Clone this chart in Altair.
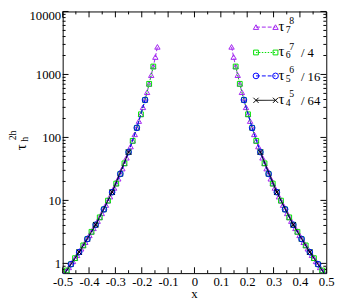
import altair as alt
import pandas as pd

# |x| positions and tau values (the two branches are mirror images)
x7 = [0.140625, 0.1484375, 0.15625, 0.1640625, 0.171875, 0.1796875, 0.1875, 0.1953125,
      0.203125, 0.2109375, 0.21875, 0.2265625, 0.234375, 0.2421875, 0.25, 0.2578125,
      0.265625, 0.2734375, 0.28125, 0.2890625, 0.296875, 0.3046875, 0.3125, 0.3203125,
      0.328125, 0.3359375, 0.34375, 0.3515625, 0.359375, 0.3671875, 0.375, 0.3828125,
      0.390625, 0.3984375, 0.40625, 0.4140625, 0.421875, 0.4296875, 0.4375, 0.4453125,
      0.453125, 0.4609375, 0.46875, 0.4765625, 0.484375, 0.4921875, 0.5]
t7 = [2742, 1892, 1337, 975, 710, 522, 394, 301, 233, 182, 142, 112, 88.3, 71.8, 58.5,
      47.6, 38.8, 32.0, 26.4, 22.1, 18.5, 15.8, 13.5, 11.5, 9.91, 8.45, 7.21, 6.24, 5.38,
      4.70, 4.10, 3.61, 3.17, 2.79, 2.44, 2.17, 1.93, 1.71, 1.51, 1.35, 1.21, 1.08, 0.97,
      0.865, 0.773, 0.69, 0.62]

x6 = [0.15625, 0.171875, 0.1875, 0.203125, 0.21875, 0.234375, 0.25, 0.265625, 0.28125,
      0.296875, 0.3125, 0.328125, 0.34375, 0.359375, 0.375, 0.390625, 0.40625, 0.421875,
      0.4375, 0.453125, 0.46875, 0.484375, 0.5]
t6 = [1337, 710, 394, 233, 142, 88.3, 58.5, 38.8, 26.4, 18.5, 13.5, 9.91, 7.21, 5.38,
      4.10, 3.17, 2.44, 1.93, 1.51, 1.21, 0.97, 0.773, 0.62]

x5 = [0.1875, 0.21875, 0.25, 0.28125, 0.3125, 0.34375, 0.375, 0.40625, 0.4375, 0.46875, 0.5]
t5 = [394, 142, 58.5, 26.4, 13.5, 7.21, 4.10, 2.44, 1.51, 0.97, 0.62]

x4 = [0.25, 0.3125, 0.375, 0.4375, 0.5]
t4 = [58.5, 13.5, 4.10, 1.51, 0.62]

leg_sub = ["7", "6", "5", "4"]
leg_sup = ["8", "7", "6", "5"]
leg_suffix = ["", "/ 4", "/ 16", "/ 64"]

x_major = [-0.5, -0.4, -0.3, -0.2, -0.1, 0.0, 0.1, 0.2, 0.3, 0.4, 0.5]
x_minor = [-0.45, -0.35, -0.25, -0.15, -0.05, 0.05, 0.15, 0.25, 0.35, 0.45]
y_major = [1, 10, 100, 1000, 10000]
y_minor = [0.7, 0.8, 0.9] + [m * d for d in (1, 10, 100, 1000) for m in range(2, 10)]

FONT = "Liberation Serif"
W, H = 270, 268

xscale = alt.Scale(domain=[-0.5, 0.5], nice=False, zero=False)
yscale = alt.Scale(type="log", domain=[0.7, 10000], nice=False)
xaxis = alt.Axis(values=x_major,
                 labelExpr="abs(datum.value) < 1e-9 ? '0' : replace(format(datum.value, '.1f'), '\u2212', '-')",
                 title=None, ticks=False, domain=False, grid=False, labelFont=FONT,
                 labelFontSize=13, labelPadding=3, labelColor="black",
                 labelFlush=False, labelOverlap=False)
yaxis = alt.Axis(values=y_major, format="d", title=None, ticks=False, domain=False,
                 grid=False, labelFont=FONT, labelFontSize=13, labelPadding=2,
                 labelColor="black", labelFlush=False, labelOverlap=False,
                 labelOffset={"condition": {"test": "datum.value >= 9999", "value": 4},
                              "value": 0})


def X(field="x"):
    return alt.X(f"{field}:Q", scale=xscale, axis=xaxis)


def Y(field="t"):
    return alt.Y(f"{field}:Q", scale=yscale, axis=yaxis)


layers = []

# inward ticks on all four sides
ydf_major = pd.DataFrame({"v": y_major})
ydf_minor = pd.DataFrame({"v": y_minor})
xdf_major = pd.DataFrame({"v": x_major})
xdf_minor = pd.DataFrame({"v": x_minor})
for df, ln in ((ydf_major, 6), (ydf_minor, 3)):
    layers.append(alt.Chart(df).mark_rule(color="black", strokeWidth=1).encode(
        y=Y("v"), x=alt.value(0), x2=alt.value(ln)))
    layers.append(alt.Chart(df).mark_rule(color="black", strokeWidth=1).encode(
        y=Y("v"), x=alt.value(W - ln), x2=alt.value(W)))
for df, ln in ((xdf_major, 6), (xdf_minor, 3)):
    layers.append(alt.Chart(df).mark_rule(color="black", strokeWidth=1).encode(
        x=X("v"), y=alt.value(H), y2=alt.value(H - ln)))
    layers.append(alt.Chart(df).mark_rule(color="black", strokeWidth=1).encode(
        x=X("v"), y=alt.value(0), y2=alt.value(ln)))

XSHAPE = "M-1,-1L1,1M-1,1L1,-1"
series = [
    (x7, t7, "#a020f0", "triangle-up", [4, 2], 30),
    (x6, t6, "#00e000", "square", [1.5, 1.5], 24),
    (x5, t5, "#0000ff", "circle", [4, 2], 34),
    (x4, t4, "#000000", XSHAPE, [1, 0], 28),
]


def branch_df(xs, ts):
    rows = []
    for side, name in ((-1, "L"), (1, "R")):
        for xv, tv in zip(xs, ts):
            rows.append({"x": side * xv, "t": tv, "branch": name})
    return pd.DataFrame(rows)


for xs, ts, col, shape, dash, size in series:
    df = branch_df(xs, ts)
    base = alt.Chart(df)
    layers.append(base.mark_line(color=col, strokeDash=dash, strokeWidth=1, clip=True).encode(
        x=X(), y=Y(), detail="branch:N"))
    layers.append(base.mark_point(shape=shape, filled=False, size=size, color=col,
                                  strokeWidth=1, opacity=1, clip=True).encode(x=X(), y=Y()))

# legend (drawn by hand, top right)
one = pd.DataFrame({"a": [0]})
leg_rows = [16, 42, 66, 91]
for i, (xs, ts, col, shape, dash, size) in enumerate(series):
    ly = leg_rows[i]
    layers.append(alt.Chart(one).mark_rule(color=col, strokeDash=dash, strokeWidth=1).encode(
        x=alt.value(198), x2=alt.value(218), y=alt.value(ly)))
    for lx in (198, 218):
        layers.append(alt.Chart(one).mark_point(shape=shape, filled=False, size=size, color=col,
                                                strokeWidth=1, opacity=1).encode(
            x=alt.value(lx), y=alt.value(ly)))
    layers.append(alt.Chart(one).mark_text(text="τ", font=FONT, fontSize=15, align="left",
                                           baseline="alphabetic", color="black").encode(
        x=alt.value(221), y=alt.value(ly + 4)))
    layers.append(alt.Chart(one).mark_text(text=leg_sub[i], font=FONT, fontSize=10, align="left",
                                           baseline="alphabetic", color="black").encode(
        x=alt.value(228.5), y=alt.value(ly + 6)))
    layers.append(alt.Chart(one).mark_text(text=leg_sup[i], font=FONT, fontSize=10, align="left",
                                           baseline="alphabetic", color="black").encode(
        x=alt.value(232), y=alt.value(ly - 3)))
    if leg_suffix[i]:
        layers.append(alt.Chart(one).mark_text(text=leg_suffix[i], font=FONT, fontSize=13,
                                               align="left", baseline="alphabetic",
                                               color="black").encode(
            x=alt.value(244), y=alt.value(ly + 5)))

# x-axis title
layers.append(alt.Chart(one).mark_text(text="x", font=FONT, fontSize=13, align="center",
                                       baseline="alphabetic", color="black").encode(
    x=alt.value(W / 2), y=alt.value(H + 25)))

# y-axis title tau_h^{2h}
layers.append(alt.Chart(one).mark_text(text="τ", font=FONT, fontSize=15, angle=270,
                                       align="center", baseline="middle", color="black").encode(
    x=alt.value(-43), y=alt.value(139)))
layers.append(alt.Chart(one).mark_text(text="h", font=FONT, fontSize=10, angle=270,
                                       align="center", baseline="middle", color="black").encode(
    x=alt.value(-39), y=alt.value(131)))
layers.append(alt.Chart(one).mark_text(text="2h", font=FONT, fontSize=10, angle=270,
                                       align="center", baseline="middle", color="black").encode(
    x=alt.value(-51), y=alt.value(127)))

chart = alt.layer(*layers).properties(
    width=W, height=H,
    autosize=alt.AutoSizeParams(type="none"),
    padding={"left": 56, "top": 0, "right": 12, "bottom": 26},
).configure_view(stroke="black", strokeWidth=1)

chart.save("out.html", embed_options={"renderer": "svg", "actions": False})
